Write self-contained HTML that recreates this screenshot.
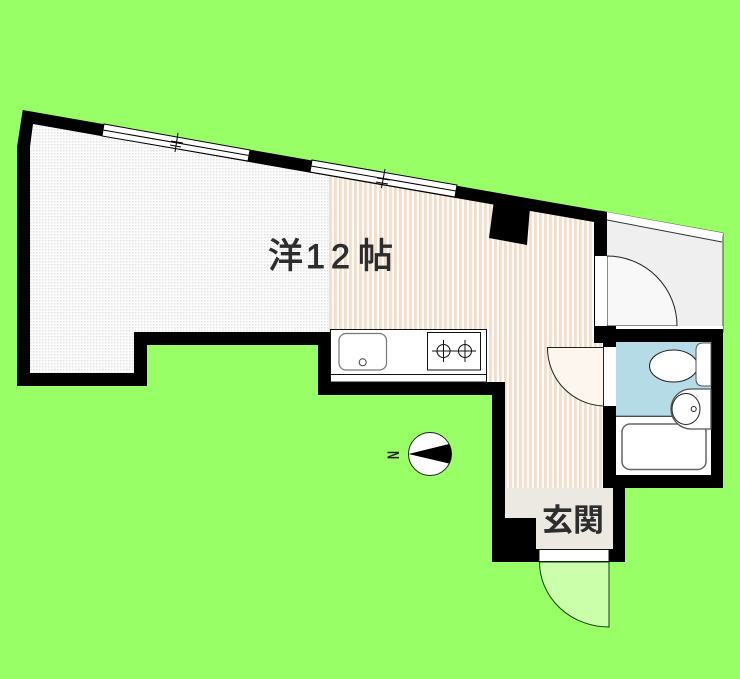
<!DOCTYPE html>
<html lang="ja">
<head>
<meta charset="utf-8">
<style>
html,body{margin:0;padding:0;background:#99ff66}
svg{display:block}
</style>
</head>
<body>
<svg width="740" height="679" viewBox="0 0 740 679" xmlns="http://www.w3.org/2000/svg">
<defs>
<pattern id="dots" width="3" height="3" patternUnits="userSpaceOnUse">
<rect width="3" height="3" fill="#fdfdfd"/>
<rect width="1.5" height="1.5" fill="#e2e2e2"/>
</pattern>
<pattern id="stripes" x="329" y="0" width="5" height="10" patternUnits="userSpaceOnUse">
<rect width="5" height="10" fill="#fefaf6"/>
<rect width="2.8" height="10" fill="#f0dfcc"/>
</pattern>
</defs>

<rect width="740" height="679" fill="#99ff66"/>

<!-- balcony -->
<polygon points="600,211 723,233 723,332 600,332" fill="#efefef" stroke="#335522" stroke-width="1"/>
<polygon points="607,212 723,233 722,242 607,220" fill="#ffffff"/>
<line x1="607" y1="220" x2="722" y2="242" stroke="#333" stroke-width="1"/>
<path d="M607,256 A70,70 0 0 1 677,326 L607,326 Z" fill="#f8f8f8" stroke="#222" stroke-width="1"/>
<rect x="607" y="326" width="116" height="4" fill="#fff"/>

<!-- walls outer silhouette -->
<polygon points="22.7,110 607,212 607,329 723,329 723,488 625,488 625,562 492,562 492,395 318,395 318,345 147,345 147,386 17,386 17,147" fill="#000"/>

<!-- floors -->
<polygon points="33,124 329,176 329,332 134,332 134,373 30,373 30,147" fill="url(#dots)"/>
<polygon points="329,176 594,222 594,326 603,326 603,488 505,488 505,382 331,382 331,332 329,332" fill="url(#stripes)"/>

<!-- column -->
<polygon points="494,200 530,207 527,245 489,238" fill="#000"/>

<!-- east wall pieces -->
<rect x="594" y="220" width="13" height="36" fill="#000"/>
<rect x="595" y="256" width="12" height="70" fill="#fff"/>
<rect x="594" y="326" width="22" height="17" fill="#000"/>
<rect x="603" y="343" width="13" height="4" fill="#000"/>

<!-- windows -->
<g stroke="#000" stroke-width="1" fill="#fff">
<polygon points="104,124 250,150 248,161 102,136"/>
<line x1="103" y1="130" x2="249" y2="155.500"/>
<polygon points="312,160 457,185 455,197 310,172"/>
<line x1="311" y1="166" x2="456" y2="191"/>
<line x1="178" y1="133" x2="175" y2="152"/>
<line x1="171" y1="141" x2="183" y2="143"/>
<line x1="170" y1="145" x2="181" y2="147"/>
<line x1="385" y1="169" x2="381.500" y2="188"/>
<line x1="377" y1="178" x2="390" y2="180"/>
<line x1="376" y1="182" x2="388" y2="184"/>
</g>

<!-- kitchen -->
<rect x="330.500" y="329.500" width="156" height="52.500" fill="#fff" stroke="#111" stroke-width="1"/>
<line x1="331" y1="374.500" x2="487" y2="374.500" stroke="#111" stroke-width="1"/>
<rect x="339" y="333.500" width="47.500" height="36.500" rx="7" fill="#fff" stroke="#777" stroke-width="1.200"/>
<circle cx="362.700" cy="362.300" r="3.500" fill="#fff" stroke="#444" stroke-width="1"/>
<rect x="427.500" y="332.500" width="53" height="37.500" fill="#fff" stroke="#111" stroke-width="1"/>
<g fill="none" stroke="#111" stroke-width="1">
<circle cx="443.500" cy="351" r="6.500"/>
<circle cx="465" cy="351" r="6.500"/>
<line x1="432" y1="351" x2="476" y2="351"/>
<line x1="443.500" y1="340" x2="443.500" y2="362"/>
<line x1="465" y1="340" x2="465" y2="362"/>
</g>

<!-- hall door -->
<path d="M547.500,347.500 L603.500,347.500 L603.500,406 A58,58 0 0 1 547.500,347.500 Z" fill="#fdf6ee" stroke="#222" stroke-width="1"/>
<rect x="604" y="347" width="12" height="59" fill="#fff"/>

<!-- bathroom -->
<rect x="616" y="342" width="95" height="74" fill="#b5dbe6"/>
<rect x="616" y="416" width="95" height="59" fill="#fff"/>
<line x1="616" y1="416.300" x2="675" y2="416.300" stroke="#111" stroke-width="1"/>
<rect x="622" y="424" width="84" height="45.500" rx="8" fill="#fff" stroke="#666" stroke-width="1.500"/>
<ellipse cx="673.500" cy="366" rx="24" ry="16" fill="#fff" stroke="#222" stroke-width="1"/>
<path d="M711,343 L703,343 Q696,343 696,350 L696,379 Q696,386 703,386 L711,386 Z" fill="#fff" stroke="#555" stroke-width="1"/>
<path d="M711,389 L691,389 A20,20 0 0 0 691,429 L711,429 Z" fill="#fff" stroke="#555" stroke-width="1.300"/>
<ellipse cx="686" cy="409" rx="14" ry="15.500" fill="#fff" stroke="#222" stroke-width="1"/>
<circle cx="693.700" cy="409" r="2.500" fill="#fff" stroke="#222" stroke-width="1"/>

<!-- genkan -->
<polygon points="505,488 613,488 613,549 536,549 536,518 505,518" fill="#ece9e2"/>
<rect x="539" y="549.500" width="70" height="12" fill="#fff" stroke="#111" stroke-width="1"/>
<path d="M539.500,562 A69.500,65 0 0 0 609,627 L609,562 Z" fill="#ccffaa" stroke="#0d3d0d" stroke-width="1"/>

<!-- compass -->
<circle cx="430" cy="454" r="21.500" fill="#fff" stroke="#222" stroke-width="1"/>
<path d="M408.500,454 L449,444 A21,21 0 0 1 449,463.500 Z" fill="#000"/>
<g transform="translate(393.500 455) rotate(90)">
<text x="0" y="5.500" font-family="'Liberation Sans',sans-serif" font-size="15" font-weight="bold" fill="#222" text-anchor="middle" transform="scale(0.75 1.1)">N</text>
</g>

<!-- labels -->
<g font-family="'Liberation Sans','Noto Sans CJK JP',sans-serif" fill="#2d2d2d" stroke="#2d2d2d" stroke-width="0.900">
<text x="268" y="268" font-size="35">洋</text>
<text x="306" y="268" font-size="34">1</text>
<text x="331" y="268" font-size="34">2</text>
<text x="358" y="268" font-size="35">帖</text>
</g>
<text x="542" y="531" font-family="'Liberation Sans','Noto Sans CJK JP',sans-serif" font-size="31" font-weight="bold" fill="#2d2d2d">玄関</text>
</svg>
</body>
</html>
